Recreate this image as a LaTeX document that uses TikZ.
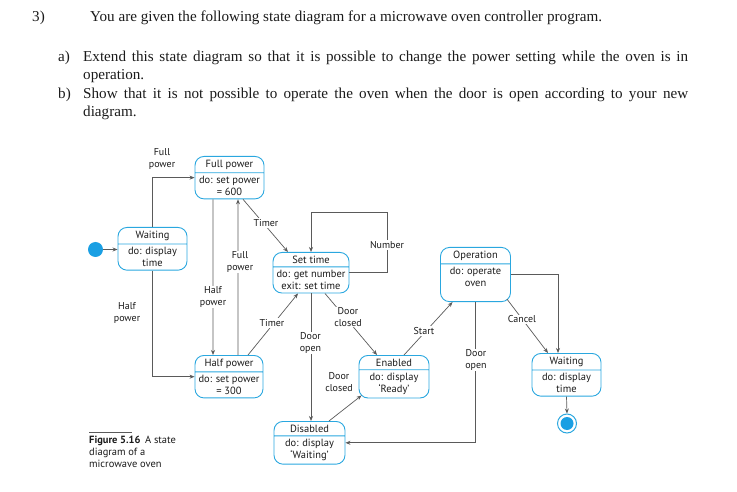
\documentclass[tikz,border=0pt]{standalone}
\usepackage{fontspec}
\setmainfont{Liberation Serif}
\newfontfamily\diagfont{PT Sans}
\usetikzlibrary{shapes,arrows.meta,positioning,calc}
\definecolor{ovblue}{HTML}{2AA7DF}
\definecolor{ovdot}{HTML}{1A9FE3}
\definecolor{ovline}{HTML}{5A5A5A}
\definecolor{ovtext}{HTML}{1A1A1A}

\tikzset{
  state/.style={rectangle split, rectangle split parts=2, draw=ovblue, line width=0.9bp,
    rounded corners=9bp, align=center, inner xsep=2bp, inner ysep=3bp, anchor=north,
    font=\diagfont\fontsize{10.5}{11.8}\selectfont, text=ovtext},
  trans/.style={draw=ovline, line width=0.7bp, -{Stealth[length=5bp,width=4bp]}},
  lbl/.style={fill=white, inner sep=1bp, align=center,
    font=\diagfont\fontsize{10}{11.5}\selectfont, text=ovtext},
  qline/.style={anchor=base west, inner sep=0pt, font=\fontsize{15.2}{18}\selectfont, text=ovtext},
}

\begin{document}
\begin{tikzpicture}[x=1bp,y=-1bp]
\useasboundingbox (0,0) rectangle (737,492);

% question text
\node[qline] (qnum) at (32,22) {3)};
\node[qline] (qtext) at (90,22) {You are given the following state diagram for a microwave oven controller program.};
\node[qline] (qa) at (58,62) {a)};
\node[qline] (qaone) at (83,62) {\makebox[605bp][s]{Extend this state diagram so that it is possible to change the power setting while the oven is in}};
\node[qline] (qatwo) at (83,80) {operation.};
\node[qline] (qb) at (58,99) {b)};
\node[qline] (qbone) at (83,99) {\makebox[605bp][s]{Show that it is not possible to operate the oven when the door is open according to your new}};
\node[qline] (qbtwo) at (83,117) {diagram.};

% states
\node[circle, fill=ovdot, minimum size=15bp, inner sep=0pt] (init) at (95.5,249.5) {};
\node[state, minimum width=69bp] (waitA) at (152.5,227) {Waiting \nodepart{two} do: display\\time};
\node[state, minimum width=69bp] (fullP) at (229.5,156) {Full power \nodepart{two} do: set power\\= 600};
\node[state, minimum width=68bp] (halfP) at (229,355) {Half power \nodepart{two} do: set power\\= 300};
\node[state, minimum width=76bp] (setT) at (311,252) {Set time \nodepart{two} do: get number\\exit: set time};
\node[state, minimum width=70bp] (enab) at (394,355) {Enabled \nodepart{two} do: display\\‘Ready’};
\node[state, minimum width=71bp] (disab) at (309.5,421) {Disabled \nodepart{two} do: display\\‘Waiting’};
\node[state, minimum width=70bp] (oper) at (475.5,247) {Operation \nodepart{two} do: operate\\oven\\[0bp]\mbox{}};
\node[state, minimum width=69bp] (waitB) at (566.5,353) {Waiting \nodepart{two} do: display\\time};
\node[circle, draw=ovblue, line width=1bp, fill=white, minimum size=19bp, inner sep=0pt] (final) at (567,423.5) {};
\node[circle, fill=ovdot, minimum size=13bp, inner sep=0pt] (finalin) at (final) {};
\coordinate (loop) at (387,212);

% transitions
\draw[trans] (init) -- (init -| waitA.west);
\draw[trans] (waitA.north) |- (fullP.west);
\draw[trans] (waitA.south) |- (halfP.west);
\draw[trans] ([xshift=-16.5bp]fullP.south) -- ([xshift=-16bp]halfP.north);
\draw[trans] ([xshift=9bp]halfP.north) -- ([xshift=8.5bp]fullP.south);
\draw[trans] ([xshift=13.5bp]fullP.south) -- ([xshift=-23bp]setT.north);
\draw[trans] ([xshift=19bp]halfP.north) -- ([xshift=-13bp]setT.south);
\draw[trans] (setT.east) -| (loop) -| (setT.north);
\draw[trans] ([xshift=14bp]setT.south) -- ([xshift=-17bp]enab.north);
\draw[trans] (setT.south) -- (setT.south |- disab.north);
\draw[trans] ([xshift=19.5bp]disab.north) -- ([xshift=3bp,yshift=3bp]enab.south west);
\draw[trans] ([xshift=10bp]enab.north) -- ([xshift=-23bp]oper.south);
\draw[trans] (oper.south) |- (disab.east);
\draw[trans] ([xshift=-4bp,yshift=3bp]oper.south east) -- ([xshift=-18.5bp]waitB.north);
\draw[trans] (oper.east) -| ([xshift=-8.5bp]waitB.north);
\draw[trans] (waitB.south) -- (final.north);

% labels
\node[lbl] (lfullA) at (162,159) {Full\\power};
\node[lbl] (lhalfA) at (127,313) {Half\\power};
\node[lbl] (lhalfB) at (213,297) {Half\\power};
\node[lbl] (lfullB) at (240,262) {Full\\power};
\node[lbl] (ltimA) at (266,223) {Timer};
\node[lbl] (ltimB) at (272,323) {Timer};
\node[lbl] (lnum) at (387,245) {Number};
\node[lbl] (lclosA) at (348,317) {Door\\closed};
\node[lbl] (lopenA) at (310.5,343) {Door\\open};
\node[lbl] (lclosB) at (339,382) {Door\\closed};
\node[lbl] (lstart) at (424,331) {Start};
\node[lbl] (lopenB) at (476,360) {Door\\open};
\node[lbl] (lcancel) at (522,319.5) {Cancel};

% caption
\node[anchor=north west, inner sep=0pt, align=left, font=\diagfont\fontsize{10.5}{12}\selectfont, text=ovtext] (cap) at (89,436) {\textbf{Figure 5.16}\, A state\\diagram of a\\microwave oven};
\draw[ovline, line width=0.6bp] ([yshift=4bp]cap.north west) -- ++(43,0);
\end{tikzpicture}
\end{document}
